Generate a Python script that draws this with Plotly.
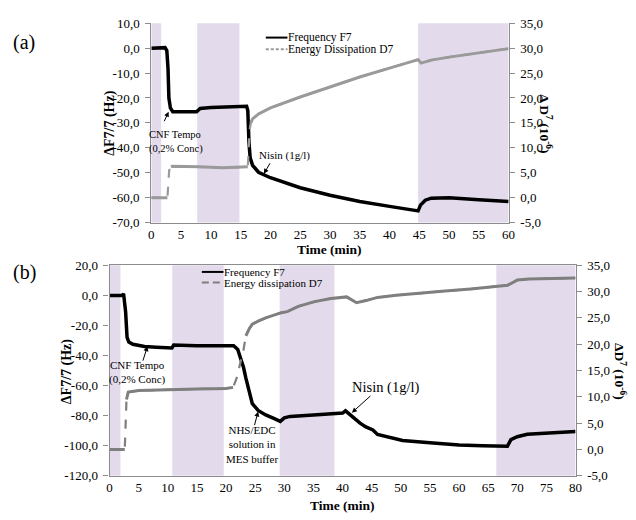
import plotly.graph_objects as go

# ---------------- data: panel (a) ----------------
t_f7_a = [0, 2.3, 2.6, 2.8, 2.95, 3.2, 3.6, 5, 7.6, 8.2, 10, 16.0, 16.2, 16.4, 16.6, 17, 18, 20,
          25, 30, 35, 40, 44.8, 45.2, 46, 47, 50, 55, 60]
f7_a = [0, 0.2, -1, -8, -20, -24, -25.5, -25.5, -25.5, -24.2, -23.8, -23.3, -25, -38, -44, -47, -49.8, -52,
        -56, -59, -61.5, -63.5, -65.3, -63, -61, -60.2, -60, -60.8, -61.5]

t_d7_a = [0, 2.7, 3.0, 3.3, 3.5, 8, 12, 16.2, 16.5, 16.7, 17, 18, 20, 25, 30, 35, 40, 44.8, 45.3, 47,
          50, 55, 60]
d7_a = [0, 0, 5.5, 6.2, 6.3, 6.2, 6.0, 6.2, 13.5, 15.0, 15.8, 16.8, 18.0, 20.2, 22.2, 24.2, 26.0, 27.7,
        27.0, 27.6, 28.2, 29.1, 29.9]

shade_a = [(0, 1.65), (7.7, 14.8), (44.8, 60)]

# ---------------- data: panel (b) ----------------
t_f7_b = [0, 2.2, 2.4, 2.6, 2.75, 3.0, 3.3, 4, 6, 8, 10.7, 11.0, 15, 20, 21.3, 22, 22.5, 23, 23.4, 24,
          24.5, 25.5, 26.8, 28, 29.3, 30, 31, 35, 40, 40.5, 41, 42, 43, 44, 45.2, 46, 48, 50.3, 55, 57.6,
          60, 64, 66, 68.3, 68.9, 70, 71.7, 75, 80]
f7_b = [0, 0, 1.2, -5, -11, -28, -31, -32.5, -34, -34.5, -35, -33, -33.5, -33.5, -33.5, -36, -42, -48,
        -55, -65, -72, -76.5, -79.5, -81.5, -83.8, -81.5, -80.5, -79.5, -78.3, -76.8, -78.5, -82, -85,
        -87.5, -89.5, -92.5, -94.5, -96.5, -98, -99, -99.5, -100, -100.3, -100.4, -96, -94, -92.4, -91.5,
        -90.5]

t_d7_b = [0, 2.6, 2.9, 3.2, 5, 10, 15, 20, 21.2, 21.8, 22.5, 23.0, 23.4, 24, 24.5, 25.5, 26.8, 28, 29.5,
          30.5, 32.4, 35.2, 38, 40.7, 41.5, 42.4, 44, 46, 49.2, 52, 57.6, 62, 66, 68.3, 69, 70, 72, 75, 80]
d7_b = [0, 0, 9.5, 10.9, 11.2, 11.4, 11.5, 11.6, 11.8, 13.5, 16.5, 19.0, 21.6, 23.0, 23.8, 24.4, 25.0,
        25.5, 26.0, 26.2, 27.2, 28.1, 28.7, 29.0, 28.5, 27.9, 28.3, 28.9, 29.3, 29.6, 30.1, 30.5, 30.9,
        31.2, 31.6, 32.2, 32.4, 32.5, 32.6]

shade_b = [(0, 1.86), (10.76, 19.6), (29.2, 38.6), (66.4, 80)]

# tick values
xt_a = list(range(0, 61, 5))
yl_a = list(range(-70, 11, 10))
yr_a = list(range(-5, 36, 5))
xt_b = list(range(0, 81, 5))
yl_b = list(range(-120, 21, 20))
yr_b = list(range(-5, 36, 5))

# ---------------- styling ----------------
W, H = 636, 520
FONT = "Liberation Serif"
AXC = "#8c8c8c"
SHADE = "#e3daeb"


def px(x):
    return x / W


def py(y):
    return 1 - y / H


def lab(vals):
    return [f"{v:.1f}".replace(".", ",") for v in vals]


def solid_with_gaps(t, v, spans):
    xs, ys = [], []
    for i in range(len(t)):
        if i > 0 and any(a <= t[i - 1] and t[i] <= b for a, b in spans):
            xs.append(None)
            ys.append(None)
        xs.append(t[i])
        ys.append(v[i])
    return xs, ys


dash_spans_a = [(2.6, 3.3), (16.1, 16.7)]
dash_spans_b = [(2.5, 3.0), (21.1, 23.5)]

fig = go.Figure()

# panel (a)
fig.add_trace(go.Scatter(x=t_f7_a, y=f7_a, mode="lines", line=dict(color="black", width=3.5),
                         xaxis="x", yaxis="y", name="Frequency F7", showlegend=False))
fig.add_trace(go.Scatter(x=t_d7_a, y=d7_a, mode="lines",
                         line=dict(color="#9a9a9a", width=2.2, dash="dash"),
                         xaxis="x", yaxis="y2", name="Energy Dissipation D7", showlegend=False))
sx, sy = solid_with_gaps(t_d7_a, d7_a, dash_spans_a)
fig.add_trace(go.Scatter(x=sx, y=sy, mode="lines", line=dict(color="#9a9a9a", width=3),
                         xaxis="x", yaxis="y2", showlegend=False, hoverinfo="skip"))

# panel (b)
fig.add_trace(go.Scatter(x=t_f7_b, y=f7_b, mode="lines", line=dict(color="black", width=3.5),
                         xaxis="x2", yaxis="y3", name="Frequency F7", showlegend=False))
fig.add_trace(go.Scatter(x=t_d7_b, y=d7_b, mode="lines",
                         line=dict(color="#7f7f7f", width=2.2, dash="dash"),
                         xaxis="x2", yaxis="y4", name="Energy dissipation D7", showlegend=False))
sx, sy = solid_with_gaps(t_d7_b, d7_b, dash_spans_b)
fig.add_trace(go.Scatter(x=sx, y=sy, mode="lines", line=dict(color="#7f7f7f", width=3),
                         xaxis="x2", yaxis="y4", showlegend=False, hoverinfo="skip"))

shapes = []
for a, b in shade_a:
    shapes.append(dict(type="rect", xref="x", yref="y domain", x0=a, x1=b, y0=0, y1=1,
                       fillcolor=SHADE, line=dict(width=0), layer="below"))
for a, b in shade_b:
    shapes.append(dict(type="rect", xref="x2", yref="y3 domain", x0=a, x1=b, y0=0, y1=1,
                       fillcolor=SHADE, line=dict(width=0), layer="below"))

# manual legends
shapes.append(dict(type="line", xref="paper", yref="paper", x0=px(267), x1=px(289), y0=py(31.5),
                   y1=py(31.5), line=dict(color="black", width=2)))
shapes.append(dict(type="line", xref="paper", yref="paper", x0=px(267), x1=px(289), y0=py(43.5),
                   y1=py(43.5), line=dict(color="#9a9a9a", width=2, dash="3px,2px")))
shapes.append(dict(type="line", xref="paper", yref="paper", x0=px(202), x1=px(224), y0=py(272.8),
                   y1=py(272.8), line=dict(color="black", width=2)))
shapes.append(dict(type="line", xref="paper", yref="paper", x0=px(202), x1=px(224), y0=py(283.8),
                   y1=py(283.8), line=dict(color="#7f7f7f", width=2, dash="7px,4px")))

ann = []


def text(x, y, s, size, xanchor="center", yanchor="middle", bold=False, angle=0, align="center"):
    if bold:
        s = f"<b>{s}</b>"
    ann.append(dict(xref="paper", yref="paper", x=px(x), y=py(y), text=s, showarrow=False,
                    xanchor=xanchor, yanchor=yanchor, textangle=angle, align=align, borderpad=0,
                    font=dict(family=FONT, size=size, color="black")))


# legend text
text(289, 31.5, "Frequency F7", 11.5, xanchor="left")
text(289, 43.5, "Energy Dissipation D7", 11.5, xanchor="left")
text(224, 272.8, "Frequency F7", 11, xanchor="left")
text(224, 283.8, "Energy dissipation D7", 11, xanchor="left")

# panel labels
text(21.7, 36.7, "(a)", 20)
text(21.7, 273.3, "(b)", 20)

# axis titles
text(108, 120, "ΔF7/7 (Hz)", 14, bold=True, angle=-90)
text(551, 120, "Δ D<sup>7</sup> (10<sup>-6</sup>)", 13.5, bold=True, angle=90)
text(332, 250, "Time (min)", 13.5, bold=True)
text(65, 375, "ΔF7/7 (Hz)", 14, bold=True, angle=-90)
text(627, 375, "ΔD<sup>7</sup> (10<sup>-6</sup>)", 13.5, bold=True, angle=90)
text(345, 513, "Time (min)", 13.5, bold=True)

# annotation texts
text(147.7, 138.7, "CNF Tempo<br>(0,2% Conc)", 10.5, xanchor="left", align="left")
text(285.5, 153.3, "Nisin (1g/l)", 11)
text(136.7, 376.7, "CNF Tempo<br>(0,2% Conc)", 11)
text(253.3, 450, "NHS/EDC<br>solution in<br>MES buffer", 11)
text(388.6, 391.7, "Nisin (1g/l)", 14.5)

# arrows (tip in data coordinates, tail as pixel offset)
arrows = [("x", "y", 2.9, -25.5, -5, 11), ("x", "y", 18.9, -50.4, 7, -12),
          ("x2", "y3", 6.5, -33.8, -5, 16), ("x2", "y3", 25.5, -77.3, -4, 15),
          ("x2", "y3", 41.6, -78, 20, -18)]
for xr, yr, x, y, ax, ay in arrows:
    ann.append(dict(xref=xr, yref=yr, x=x, y=y, ax=ax, ay=ay, text="", showarrow=True,
                    arrowhead=2, arrowsize=1, arrowwidth=1, arrowcolor="black"))

tickfont = dict(family=FONT, size=13, color="black")
common_x = dict(showgrid=False, zeroline=False, showline=True, linecolor=AXC, linewidth=1.2,
                ticks="", tickfont=tickfont, fixedrange=True)
common_y = dict(showgrid=False, zeroline=False, showline=True, linecolor=AXC, linewidth=1.2,
                ticks="outside", ticklen=5, tickcolor=AXC, tickfont=tickfont, ticklabelstandoff=3)

fig.update_layout(
    width=W, height=H, margin=dict(l=0, r=0, t=0, b=0),
    paper_bgcolor="white", plot_bgcolor="white", showlegend=False,
    xaxis=dict(domain=[px(150.7), px(513.7)], range=[0, 60], anchor="y", tickvals=xt_a,
               ticktext=[str(v) for v in xt_a], **common_x),
    yaxis=dict(domain=[py(222), py(16.7)], range=[-70, 10], anchor="x", tickvals=yl_a,
               ticktext=lab(yl_a), **common_y),
    yaxis2=dict(overlaying="y", side="right", anchor="x", range=[-5, 35], tickvals=yr_a,
                ticktext=lab(yr_a), **common_y),
    xaxis2=dict(domain=[px(108.3), px(581.7)], range=[0, 80], anchor="y3", tickvals=xt_b,
                ticktext=[str(v) for v in xt_b], mirror=True, **common_x),
    yaxis3=dict(domain=[py(482.7), py(266)], range=[-120, 20], anchor="x2", tickvals=yl_b,
                ticktext=lab(yl_b), **common_y),
    yaxis4=dict(overlaying="y3", side="right", anchor="x2", range=[-5, 35], tickvals=yr_b,
                ticktext=lab(yr_b), **common_y),
    shapes=shapes, annotations=ann,
)

fig.write_html("out.html", config={"displayModeBar": False},
               post_script="document.body.style.margin='0px';document.body.style.overflow='hidden';")
